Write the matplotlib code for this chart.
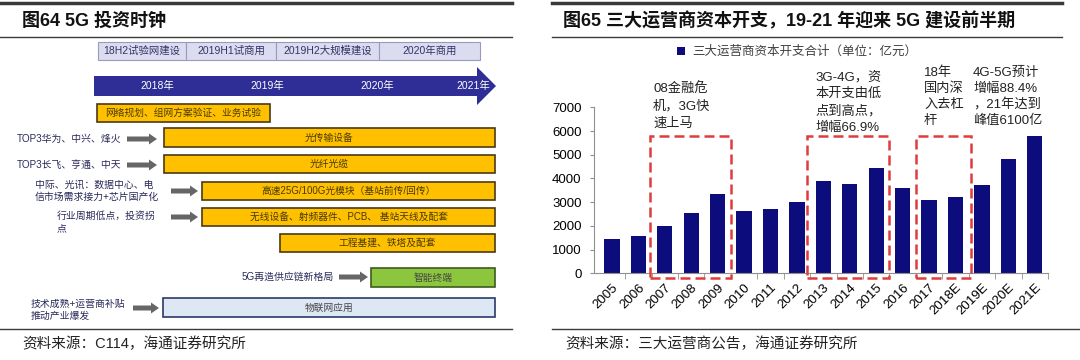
import matplotlib
matplotlib.use("Agg")
import matplotlib.pyplot as plt
from matplotlib.patches import Rectangle, Polygon, FancyArrow

plt.rcParams['font.family'] = ['Liberation Sans', 'Noto Sans CJK SC', 'DejaVu Sans']

# ---- data: left panel (5G investment clock) ----
left_title = '图64 5G 投资时钟'
phases = ['18H2试验网建设', '2019H1试商用', '2019H2大规模建设', '2020年商用']
timeline_years = ['2018年', '2019年', '2020年', '2021年']
segments = ['网络规划、组网方案验证、业务试验', '光传输设备', '光纤光缆',
            '高速25G/100G光模块（基站前传/回传）', '无线设备、射频器件、PCB、 基站天线及配套',
            '工程基建、铁塔及配套', '智能终端', '物联网应用']
drivers = ['', 'TOP3华为、中兴、烽火', 'TOP3长飞、亨通、中天',
           '中际、光讯：数据中心、电\n信市场需求接力+芯片国产化', '行业周期低点，投资拐\n点',
           '', '5G再造供应链新格局', '技术成熟+运营商补贴\n推动产业爆发']
left_source = '资料来源：C114，海通证券研究所'

# ---- data: right panel (capex) ----
right_title = '图65 三大运营商资本开支，19-21 年迎来 5G 建设前半期'
years = ['2005', '2006', '2007', '2008', '2009', '2010', '2011', '2012', '2013',
         '2014', '2015', '2016', '2017', '2018E', '2019E', '2020E', '2021E']
capex = [1430, 1590, 1980, 2560, 3330, 2640, 2700, 2990, 3900,
         3780, 4430, 3610, 3080, 3230, 3710, 4830, 5790]
series_name = '三大运营商资本开支合计（单位：亿元）'
notes = [['08金融危', '机，3G快', '速上马'],
         ['3G-4G，资', '本开支由低', '点到高点，', '增幅66.9%'],
         ['18年', '国内深', '入去杠', '杆'],
         ['4G-5G预计', '增幅88.4%', '，21年达到', '峰值6100亿']]
note_spans = [(1.45, 4.5), (7.38, 10.5), (11.5, 13.6)]
right_source = '资料来源：三大运营商公告，海通证券研究所'

fig = plt.figure(figsize=(10.8, 3.6), dpi=100)
ax0 = fig.add_axes([0, 0, 1, 1])
ax0.set_xlim(0, 1080)
ax0.set_ylim(360, 0)
ax0.axis('off')

# rules and titles
for x0, x1 in [(0, 512), (552, 1062)]:
    ax0.plot([x0, x1], [3, 3], color='#3a3a3a', lw=2.5)
    ax0.plot([x0, x1], [37, 37], color='#3a3a3a', lw=1)
ax0.plot([0, 512], [329, 329], color='#3a3a3a', lw=1)
ax0.plot([552, 1080], [329, 329], color='#3a3a3a', lw=1)
ax0.text(22, 21, left_title, fontsize=13, fontweight='bold', va='center', color='#111111')
ax0.text(563, 21, right_title, fontsize=13, fontweight='bold', va='center', color='#111111')
ax0.text(22, 344, left_source, fontsize=10.5, va='center', color='#222222')
ax0.text(565, 344, right_source, fontsize=10.5, va='center', color='#222222')

# phase header
edges = [98, 186, 276, 379, 480]
for i, p in enumerate(phases):
    ax0.add_patch(Rectangle((edges[i], 42), edges[i + 1] - edges[i], 18,
                            fc='#dcdcf0', ec='#9a9ac0', lw=0.8))
    ax0.text((edges[i] + edges[i + 1]) / 2, 51, p, fontsize=7.5, ha='center',
             va='center', color='#333366')

# timeline arrow
ax0.add_patch(Polygon([(94, 76), (477, 76), (477, 67), (496, 86), (477, 105),
                       (477, 96), (94, 96)], closed=True, fc='#2e2e96', ec='none'))
for x, t in zip([157, 267, 377, 473], timeline_years):
    ax0.text(x, 86, t, fontsize=7.5, ha='center', va='center', color='white')

# segment bars
boxes = [(97, 270, 104, 122), (164, 495, 128, 147), (164, 495, 155, 173),
         (202, 495, 182, 200), (202, 495, 208, 226), (280, 495, 234, 252),
         (371, 495, 268, 287), (163, 495, 298, 317)]
fills = ['#ffc000'] * 6 + ['#8cc63f', '#dde8f4']
borders = ['#4a3a10'] * 6 + ['#3d5a1e', '#2a3a6a']
for (x0, x1, y0, y1), s, fc, ec in zip(boxes, segments, fills, borders):
    ax0.add_patch(Rectangle((x0, y0), x1 - x0, y1 - y0, fc=fc, ec=ec, lw=1.2))
    ax0.text((x0 + x1) / 2, (y0 + y1) / 2, s, fontsize=7, ha='center', va='center',
             color='#4a3a00' if fc == '#ffc000' else '#444444')

# drivers and grey arrows
driver_pos = [None, (17, 139, 'left'), (17, 165, 'left'), (35, 191, 'left'),
              (57, 222, 'left'), None, (334, 277, 'right'), (31, 310, 'left')]
arrow_pos = [None, (127, 157, 139), (127, 157, 165), (171, 198, 191),
             (171, 198, 217), None, (339, 368, 277), (133, 159, 308)]
for d, dp, ap in zip(drivers, driver_pos, arrow_pos):
    if dp is None:
        continue
    ax0.text(dp[0], dp[1], d, fontsize=7.1, ha=dp[2], va='center', color='#2a2a5a',
             linespacing=1.3)
    ax0.add_patch(FancyArrow(ap[0], ap[2], ap[1] - ap[0], 0, width=5, head_width=11,
                             head_length=8, length_includes_head=True,
                             fc='#666666', ec='none'))

# ---- right bar chart ----
ax = fig.add_axes([594 / 1080, 1 - 273.3 / 360, (1048 - 594) / 1080, (273.3 - 107.3) / 360])
ax.patch.set_alpha(0)
x = range(len(years))
bars = ax.bar(x, capex, width=0.58, color='#0c0c7c', label=series_name)
ax.set_xlim(-0.68, 16.49)
ax.set_ylim(0, 7000)
ax.set_yticks(range(0, 7001, 1000))
ax.set_xticks(list(x))
ax.set_xticklabels(years, rotation=45, ha='right', rotation_mode='anchor', fontsize=9.5)
ax.set_xticks([i + 0.5 for i in range(len(years))], minor=True)
ax.tick_params(axis='x', which='major', length=0, pad=6)
ax.tick_params(axis='x', which='minor', length=4, color='#909090')
ax.tick_params(axis='y', length=3, color='#909090', labelsize=9.5, pad=6)
for s in ['top', 'right']:
    ax.spines[s].set_visible(False)
for s in ['left', 'bottom']:
    ax.spines[s].set_color('#909090')

for x0, x1 in note_spans:
    ax.add_patch(Rectangle((x0, -180), x1 - x0, 5990, fill=False, ec='#e03c3c',
                           lw=1.8, ls=(0, (4, 2)), clip_on=False, zorder=3))

note_xy = [(653, 89), (815, 77), (924, 73), (973, 73)]
note_dy = [17.5, 17, 16, 16]
for lines, (nx, ny), dy in zip(notes, note_xy, note_dy):
    for j, line in enumerate(lines):
        ax0.text(nx, ny + j * dy, line, fontsize=9.5, va='center', color='#222222')

ax.legend(loc='center', bbox_to_anchor=(797 / 1080, 1 - 52 / 360),
          bbox_transform=fig.transFigure, frameon=False, fontsize=9,
          handlelength=0.6, handleheight=0.6, handletextpad=0.6,
          labelcolor='#404040')

fig.savefig('out.png', dpi=100)
